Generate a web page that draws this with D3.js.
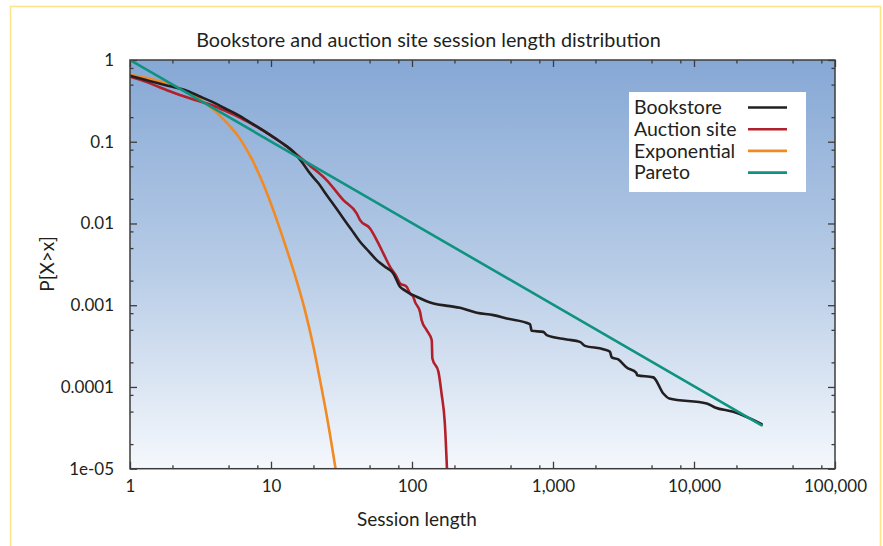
<!DOCTYPE html>
<html><head><meta charset="utf-8">
<script src="https://cdn.jsdelivr.net/npm/d3@7"></script>
<style>
html,body{margin:0;padding:0;background:#fff;}
svg{display:block;font-family:Lato,"Open Sans",sans-serif;}
</style></head>
<body>
<svg id="chart" width="883" height="546"></svg>
<script>
// ---- data ----
const titleText = "Bookstore and auction site session length distribution";
const xLabel = "Session length";
const yLabel = "P[X>x]";
const seriesNames = ["Bookstore", "Auction site", "Exponential", "Pareto"];
const seriesColors = ["#231f20", "#b3202a", "#f28a24", "#0f9380"];

const bookX = [1, 1.3, 1.59, 2.0, 2.45, 3.1, 3.8, 4.7, 5.86, 7.3, 9.07, 10.8, 12.6, 14.4, 16.5, 18.9, 21.7, 24.8, 28.5, 32.6, 37, 42.8, 49, 56.2, 64, 73.7, 82.2, 89, 96.8, 108, 127, 142, 186, 219, 288, 378, 470, 687, 706, 854, 902, 1250, 1553, 1686, 2275, 2536, 2607, 2904, 3333, 3900, 3950, 5145, 6058, 6680, 12300, 14100, 19000, 30200];
const bookP = [0.643, 0.569, 0.519, 0.47, 0.43, 0.36, 0.309, 0.257, 0.212, 0.168, 0.133, 0.109, 0.091, 0.0755, 0.057, 0.041, 0.031, 0.0223, 0.016, 0.0115, 0.0085, 0.00597, 0.00461, 0.00356, 0.00298, 0.00245, 0.00168, 0.00152, 0.00139, 0.00127, 0.00112, 0.00105, 0.000975, 0.00093, 0.000807, 0.000757, 0.000689, 0.000587, 0.000486, 0.000472, 0.00043, 0.000381, 0.000356, 0.000318, 0.00029, 0.000269, 0.00023, 0.000217, 0.000173, 0.000149, 0.000139, 0.000131, 0.0000832, 0.0000722, 0.0000628, 0.0000561, 0.0000496, 0.0000351];

const auctionX = [1, 1.3, 1.59, 2.09, 2.89, 3.8, 4.7, 5.86, 7.3, 9.07, 11.6, 14.4, 18.9, 24.8, 32.6, 40.5, 42.8, 50.4, 56.2, 62.6, 69.9, 77.9, 82.2, 91.7, 96.8, 102, 105, 114, 117, 127, 138, 139.5, 154, 162, 171, 177];
const auctionP = [0.625, 0.54, 0.471, 0.391, 0.324, 0.281, 0.24, 0.202, 0.165, 0.133, 0.1, 0.0755, 0.051, 0.034, 0.0193, 0.0133, 0.011, 0.0087, 0.00627, 0.0043, 0.00295, 0.00223, 0.00185, 0.00168, 0.00139, 0.00127, 0.0011, 0.00083, 0.000657, 0.000496, 0.000374, 0.000223, 0.000153, 0.0000832, 0.0000357, 0.00001];

const expX = [1, 1.5, 2, 2.74, 3.5, 4.72, 6, 7.29, 8.39, 9.5, 11, 12.6, 14.4, 17.4, 20, 22.3, 25, 28.7];
const expP = [0.66, 0.57, 0.49, 0.38, 0.29, 0.18, 0.11, 0.062, 0.037, 0.022, 0.011, 0.0055, 0.0027, 0.00087, 0.00031, 0.00012, 0.000042, 0.00001];

const paretoX = [1, 30200];
const paretoP = [1, 0.000034];

const xTickValues = [1, 10, 100, 1000, 10000, 100000];
const xTickLabels = ["1", "10", "100", "1,000", "10,000", "100,000"];
const yTickValues = [1, 0.1, 0.01, 0.001, 0.0001, 0.00001];
const yTickLabels = ["1", "0.1", "0.01", "0.001", "0.0001", "1e-05"];
const minorMultipliers = [2, 5, 8];

// ---- layout ----
const svg = d3.select("#chart");
const L = 130, R = 835, T = 60, B = 468.7;

const x = d3.scaleLog().domain([1, 100000]).range([L, R]);
const y = d3.scaleLog().domain([0.00001, 1]).range([B, T]);

// frame
svg.append("rect").attr("x", 10.5).attr("y", 6.5).attr("width", 870).attr("height", 560)
  .attr("fill", "#fff").attr("stroke", "#fde48c").attr("stroke-width", 1.6);

// gradient background
const defs = svg.append("defs");
const grad = defs.append("linearGradient").attr("id", "bg").attr("x1", 0).attr("y1", 0).attr("x2", 0).attr("y2", 1);
grad.append("stop").attr("offset", "0%").attr("stop-color", "#86a8d5");
grad.append("stop").attr("offset", "50%").attr("stop-color", "#b6cbe6");
grad.append("stop").attr("offset", "100%").attr("stop-color", "#f5f8fc");
defs.append("clipPath").attr("id", "clip").append("rect")
  .attr("x", L).attr("y", T).attr("width", R - L).attr("height", B - T);

svg.append("rect").attr("x", L).attr("y", T).attr("width", R - L).attr("height", B - T)
  .attr("fill", "url(#bg)");

// minor tick values
const xMinor = [], yMinor = [];
for (let d = 1; d < 100000; d *= 10) minorMultipliers.forEach(m => xMinor.push(d * m));
for (let d = 0.00001; d < 0.99; d *= 10) minorMultipliers.forEach(m => yMinor.push(d * m));

function styleAxis(g) {
  g.select(".domain").remove();
  g.selectAll(".tick line").attr("stroke", "#3c3c3c").attr("stroke-width", 1.3);
  g.selectAll(".tick text").attr("fill", "#231f20").style("font-family", "Lato, 'Open Sans', sans-serif").style("font-size", "17px");
}

// bottom
svg.append("g").attr("transform", `translate(0,${B})`)
  .call(d3.axisBottom(x).tickValues(xTickValues).tickFormat((d, i) => xTickLabels[i]).tickSize(-7).tickSizeOuter(0).tickPadding(11))
  .call(styleAxis);
svg.append("g").attr("transform", `translate(0,${B})`)
  .call(d3.axisBottom(x).tickValues(xMinor).tickFormat("").tickSize(-3.5).tickSizeOuter(0))
  .call(styleAxis);
// top
svg.append("g").attr("transform", `translate(0,${T})`)
  .call(d3.axisTop(x).tickValues(xTickValues).tickFormat("").tickSize(-7).tickSizeOuter(0))
  .call(styleAxis);
svg.append("g").attr("transform", `translate(0,${T})`)
  .call(d3.axisTop(x).tickValues(xMinor).tickFormat("").tickSize(-3.5).tickSizeOuter(0))
  .call(styleAxis);
// left
svg.append("g").attr("transform", `translate(${L},0)`)
  .call(d3.axisLeft(y).tickValues(yTickValues).tickFormat((d, i) => yTickLabels[i]).tickSize(-7).tickSizeOuter(0).tickPadding(16))
  .call(styleAxis);
svg.append("g").attr("transform", `translate(${L},0)`)
  .call(d3.axisLeft(y).tickValues(yMinor).tickFormat("").tickSize(-3.5).tickSizeOuter(0))
  .call(styleAxis);
// right
svg.append("g").attr("transform", `translate(${R},0)`)
  .call(d3.axisRight(y).tickValues(yTickValues).tickFormat("").tickSize(-7).tickSizeOuter(0))
  .call(styleAxis);
svg.append("g").attr("transform", `translate(${R},0)`)
  .call(d3.axisRight(y).tickValues(yMinor).tickFormat("").tickSize(-3.5).tickSizeOuter(0))
  .call(styleAxis);

// series
const series = [
  {xs: bookX, ps: bookP},
  {xs: auctionX, ps: auctionP},
  {xs: expX, ps: expP},
  {xs: paretoX, ps: paretoP}
];
const line = d3.line().x(d => x(d[0])).y(d => y(d[1])).curve(d3.curveMonotoneX);
const plotG = svg.append("g").attr("clip-path", "url(#clip)");
[2, 1, 0, 3].forEach(i => {
  const s = series[i];
  plotG.append("path")
    .datum(s.xs.map((v, j) => [v, s.ps[j]]))
    .attr("fill", "none").attr("stroke", seriesColors[i]).attr("stroke-width", 2.6)
    .attr("stroke-linejoin", "round").attr("stroke-linecap", "round")
    .attr("d", line);
});

// plot border
svg.append("rect").attr("x", L).attr("y", T).attr("width", R - L).attr("height", B - T)
  .attr("fill", "none").attr("stroke", "#3c3c3c").attr("stroke-width", 1.5);

// legend
const lg = svg.append("g");
lg.append("rect").attr("x", 629).attr("y", 92).attr("width", 177).attr("height", 100).attr("fill", "#fff");
seriesNames.forEach((n, i) => {
  const cy = 107.5 + i * 21.7;
  lg.append("text").attr("x", 634).attr("y", cy).attr("dy", "0.35em")
    .attr("fill", "#231f20").style("font-size", "19.5px").text(n);
  lg.append("line").attr("x1", 748).attr("x2", 787).attr("y1", cy).attr("y2", cy)
    .attr("stroke", seriesColors[i]).attr("stroke-width", 2.6);
});

// titles
svg.append("text").attr("x", 428.5).attr("y", 47).attr("text-anchor", "middle")
  .attr("fill", "#231f20").style("font-size", "19.8px").text(titleText);
svg.append("text").attr("x", 417).attr("y", 526).attr("text-anchor", "middle")
  .attr("fill", "#231f20").style("font-size", "19px").text(xLabel);
svg.append("text").attr("transform", "translate(54,264) rotate(-90)").attr("text-anchor", "middle")
  .attr("fill", "#231f20").style("font-size", "19px").text(yLabel);
</script>
</body></html>
